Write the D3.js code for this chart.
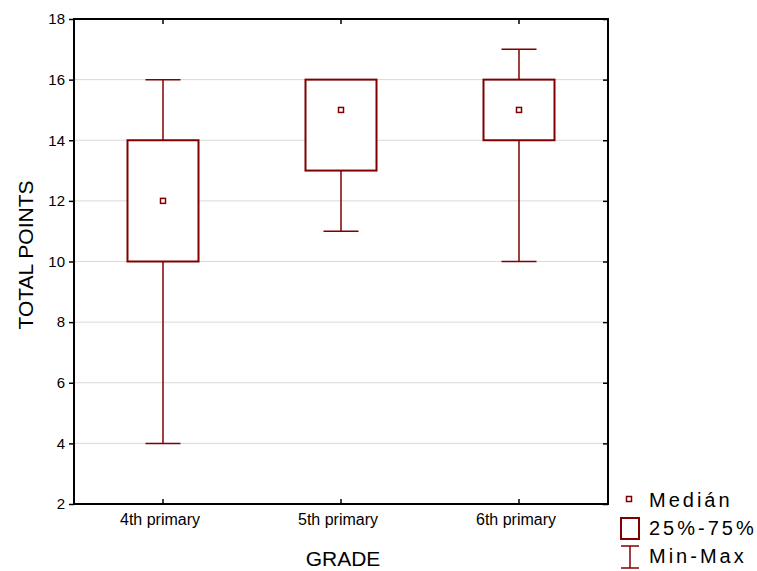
<!DOCTYPE html>
<html>
<head>
<meta charset="utf-8">
<script src="https://cdn.jsdelivr.net/npm/d3@7"></script>
<style>
  html, body { margin: 0; padding: 0; background: #fff; }
  svg { display: block; font-family: Arial, "Liberation Sans", sans-serif; }
</style>
</head>
<body>
<svg id="chart" width="757" height="571"></svg>
<script>
// Box-plot summary per grade
const categories = ["4th primary", "5th primary", "6th primary"];
const minValues    = [4, 11, 10];
const q1Values     = [10, 13, 14];
const medianValues = [12, 15, 15];
const q3Values     = [14, 16, 16];
const maxValues    = [16, 16, 17];
const yTicks = [2, 4, 6, 8, 10, 12, 14, 16, 18];
const legendLabels = ["Medián", "25%-75%", "Min-Max"];

(function () {
const color = "#800000";
const svg = d3.select("#chart");
const pLeft = 74, pRight = 608, pTop = 19, pBottom = 504;

const x = d3.scaleBand().domain(categories).range([pLeft, pRight]);
const y = d3.scaleLinear().domain([2, 18]).range([pBottom, pTop]);

// Gridlines
svg.append("g").selectAll("line").data(yTicks.slice(1, -1)).join("line")
  .attr("x1", pLeft).attr("x2", pRight)
  .attr("y1", d => y(d)).attr("y2", d => y(d))
  .attr("stroke", "#d9d9d9").attr("stroke-width", 1);

// Axes
const axisStyle = g => {
  g.select(".domain").remove();
  g.selectAll("line").attr("stroke", "#000").attr("stroke-width", 1.5);
};
svg.append("g").attr("transform", `translate(${pLeft},0)`)
  .call(d3.axisLeft(y).tickValues(yTicks).tickSize(5).tickPadding(4))
  .call(axisStyle)
  .call(g => g.selectAll("text").attr("font-size", 15).attr("fill", "#000"));
svg.append("g").attr("transform", `translate(${pRight},0)`)
  .call(d3.axisLeft(y).tickValues(yTicks).tickSize(5).tickFormat(""))
  .call(axisStyle);
svg.append("g").attr("transform", `translate(0,${pBottom})`)
  .call(d3.axisTop(x).tickSize(5).tickFormat(""))
  .call(axisStyle);
svg.append("g").attr("transform", `translate(0,${pTop})`)
  .call(d3.axisBottom(x).tickSize(5).tickFormat(""))
  .call(axisStyle);
svg.append("g").attr("transform", `translate(0,${pBottom})`)
  .call(d3.axisBottom(x).tickSize(0).tickPadding(10))
  .call(g => g.select(".domain").remove())
  .call(g => g.selectAll("text").attr("font-size", 16).attr("fill", "#000")
    .attr("dx", -3));

// Frame
svg.append("rect")
  .attr("x", pLeft).attr("y", pTop)
  .attr("width", pRight - pLeft).attr("height", pBottom - pTop)
  .attr("fill", "none").attr("stroke", "#000").attr("stroke-width", 2);

// Boxes
const boxW = 71, capW = 35;
const data = categories.map((c, i) => ({
  c, min: minValues[i], q1: q1Values[i], med: medianValues[i], q3: q3Values[i], max: maxValues[i]
}));
const g = svg.append("g").selectAll("g").data(data).join("g")
  .attr("transform", d => `translate(${x(d.c) + x.bandwidth() / 2},0)`);

g.append("line").attr("x1", 0).attr("x2", 0)
  .attr("y1", d => y(d.max)).attr("y2", d => y(d.q3))
  .attr("stroke", color).attr("stroke-width", 1.5);
g.append("line").attr("x1", 0).attr("x2", 0)
  .attr("y1", d => y(d.q1)).attr("y2", d => y(d.min))
  .attr("stroke", color).attr("stroke-width", 1.5);
g.append("line").attr("x1", -capW / 2).attr("x2", capW / 2)
  .attr("y1", d => y(d.max)).attr("y2", d => y(d.max))
  .attr("stroke", color).attr("stroke-width", 1.5);
g.append("line").attr("x1", -capW / 2).attr("x2", capW / 2)
  .attr("y1", d => y(d.min)).attr("y2", d => y(d.min))
  .attr("stroke", color).attr("stroke-width", 1.5);
g.append("rect")
  .attr("x", -boxW / 2).attr("width", boxW)
  .attr("y", d => y(d.q3)).attr("height", d => y(d.q1) - y(d.q3))
  .attr("fill", "#fff").attr("stroke", color).attr("stroke-width", 2);
g.append("rect")
  .attr("x", -2.5).attr("width", 5)
  .attr("y", d => y(d.med) - 2.5).attr("height", 5)
  .attr("fill", "#fff").attr("stroke", color).attr("stroke-width", 1.5);

// Axis titles
svg.append("text").attr("x", 343).attr("y", 566)
  .attr("text-anchor", "middle").attr("font-size", 21).text("GRADE");
svg.append("text")
  .attr("transform", `translate(33,255) rotate(-90)`)
  .attr("text-anchor", "middle").attr("font-size", 21).text("TOTAL POINTS");

// Legend
const lg = svg.append("g");
lg.append("rect").attr("x", 626.5).attr("y", 496.5).attr("width", 5).attr("height", 5)
  .attr("fill", "#fff").attr("stroke", color).attr("stroke-width", 1.5);
lg.append("rect").attr("x", 621).attr("y", 518).attr("width", 18).attr("height", 21)
  .attr("fill", "#fff").attr("stroke", color).attr("stroke-width", 2);
lg.append("line").attr("x1", 630).attr("x2", 630).attr("y1", 546).attr("y2", 568)
  .attr("stroke", color).attr("stroke-width", 1.5);
lg.append("line").attr("x1", 621).attr("x2", 639).attr("y1", 546).attr("y2", 546)
  .attr("stroke", color).attr("stroke-width", 1.5);
lg.append("line").attr("x1", 621).attr("x2", 639).attr("y1", 568).attr("y2", 568)
  .attr("stroke", color).attr("stroke-width", 1.5);
lg.selectAll("text").data(legendLabels).join("text")
  .attr("x", 649).attr("y", (d, i) => 507 + i * 28)
  .attr("font-size", 20).attr("letter-spacing", 3).text(d => d);
})();
</script>
</body>
</html>
